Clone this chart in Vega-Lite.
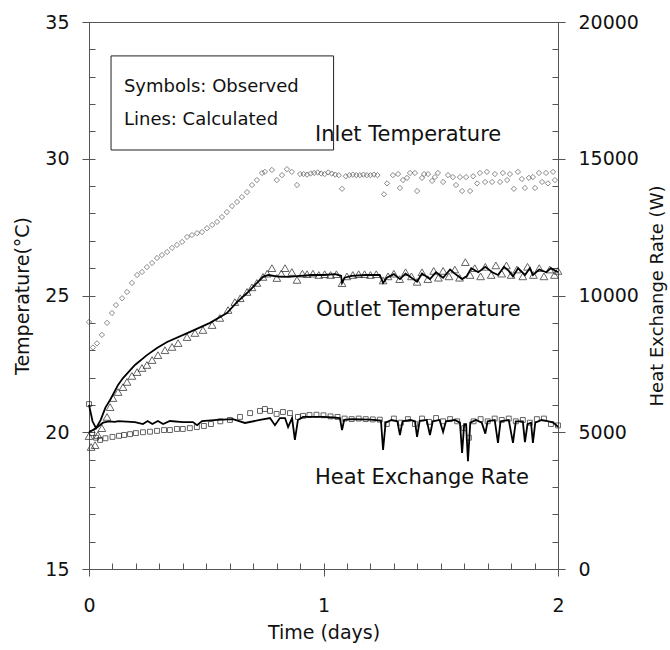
{
  "$schema": "https://vega.github.io/schema/vega-lite/v6.json",
  "width": 469,
  "height": 547,
  "autosize": {"type": "none"},
  "padding": {"left": 89, "top": 22, "right": 112, "bottom": 81},
  "background": "white",
  "config": {
    "view": {"stroke": "#555", "strokeWidth": 1},
    "font": "DejaVu Sans",
    "axis": {
      "grid": false,
      "domainColor": "#555",
      "tickColor": "#555",
      "domainWidth": 1,
      "tickWidth": 1,
      "labelColor": "#111",
      "titleColor": "#111",
      "labelFont": "DejaVu Sans",
      "titleFont": "DejaVu Sans",
      "labelFontSize": 19,
      "titleFontSize": 19,
      "titleFontWeight": "normal",
      "labelOverlap": false,
      "labelFlush": false
    }
  },
  "datasets": {
    "inlet": [
      {"t":0,"T":24.03},{"t":0.017,"T":23.1},{"t":0.034,"T":23.25},{"t":0.055,"T":23.56},{"t":0.077,"T":24.0},{"t":0.098,"T":24.36},{"t":0.115,"T":24.65},{"t":0.141,"T":24.9},{"t":0.162,"T":25.13},{"t":0.183,"T":25.46},{"t":0.205,"T":25.75},{"t":0.226,"T":25.86},{"t":0.247,"T":26.04},{"t":0.269,"T":26.19},{"t":0.29,"T":26.37},{"t":0.311,"T":26.48},{"t":0.333,"T":26.59},{"t":0.354,"T":26.74},{"t":0.375,"T":26.85},{"t":0.397,"T":26.96},{"t":0.418,"T":27.14},{"t":0.439,"T":27.21},{"t":0.461,"T":27.28},{"t":0.482,"T":27.32},{"t":0.503,"T":27.46},{"t":0.525,"T":27.58},{"t":0.546,"T":27.69},{"t":0.567,"T":27.87},{"t":0.588,"T":28.05},{"t":0.61,"T":28.27},{"t":0.631,"T":28.42},{"t":0.652,"T":28.6},{"t":0.674,"T":28.78},{"t":0.695,"T":29.04},{"t":0.716,"T":29.22},{"t":0.738,"T":29.48},{"t":0.75,"T":29.52},{"t":0.78,"T":29.59},{"t":0.801,"T":29.22},{"t":0.823,"T":29.4},{"t":0.844,"T":29.62},{"t":0.865,"T":29.52},{"t":0.887,"T":29.04},{"t":0.9,"T":29.44},{"t":0.915,"T":29.44},{"t":0.93,"T":29.42},{"t":0.945,"T":29.46},{"t":0.96,"T":29.48},{"t":0.975,"T":29.5},{"t":0.99,"T":29.46},{"t":1.005,"T":29.44},{"t":1.02,"T":29.5},{"t":1.035,"T":29.46},{"t":1.05,"T":29.42},{"t":1.065,"T":29.4},{"t":1.079,"T":28.9},{"t":1.095,"T":29.36},{"t":1.11,"T":29.4},{"t":1.125,"T":29.42},{"t":1.14,"T":29.4},{"t":1.155,"T":29.4},{"t":1.17,"T":29.42},{"t":1.185,"T":29.4},{"t":1.2,"T":29.4},{"t":1.215,"T":29.42},{"t":1.23,"T":29.4},{"t":1.258,"T":28.7},{"t":1.271,"T":29.1},{"t":1.296,"T":29.4},{"t":1.318,"T":29.44},{"t":1.326,"T":28.93},{"t":1.339,"T":29.22},{"t":1.356,"T":29.3},{"t":1.369,"T":29.48},{"t":1.39,"T":29.48},{"t":1.399,"T":28.82},{"t":1.42,"T":29.3},{"t":1.429,"T":29.44},{"t":1.446,"T":29.44},{"t":1.463,"T":29.19},{"t":1.475,"T":29.33},{"t":1.488,"T":29.48},{"t":1.51,"T":29.15},{"t":1.531,"T":29.4},{"t":1.552,"T":29.33},{"t":1.565,"T":29.04},{"t":1.582,"T":29.33},{"t":1.591,"T":28.82},{"t":1.608,"T":29.33},{"t":1.625,"T":28.82},{"t":1.638,"T":29.36},{"t":1.655,"T":29.1},{"t":1.667,"T":29.48},{"t":1.689,"T":29.15},{"t":1.697,"T":29.52},{"t":1.719,"T":29.15},{"t":1.731,"T":29.44},{"t":1.753,"T":29.15},{"t":1.765,"T":29.48},{"t":1.783,"T":29.22},{"t":1.795,"T":29.44},{"t":1.812,"T":28.9},{"t":1.829,"T":29.52},{"t":1.846,"T":29.26},{"t":1.859,"T":28.93},{"t":1.876,"T":29.3},{"t":1.893,"T":29.33},{"t":1.902,"T":28.93},{"t":1.919,"T":29.48},{"t":1.932,"T":29.15},{"t":1.949,"T":29.48},{"t":1.957,"T":29.1},{"t":1.979,"T":29.52},{"t":1.987,"T":29.22}
    ],
    "outlet": [
      {"t":0,"T":19.86},{"t":0.009,"T":19.46},{"t":0.026,"T":19.53},{"t":0.038,"T":19.9},{"t":0.055,"T":20.15},{"t":0.077,"T":20.56},{"t":0.09,"T":20.92},{"t":0.102,"T":21.25},{"t":0.124,"T":21.47},{"t":0.145,"T":21.65},{"t":0.162,"T":21.84},{"t":0.183,"T":22.06},{"t":0.205,"T":22.2},{"t":0.226,"T":22.35},{"t":0.247,"T":22.46},{"t":0.269,"T":22.64},{"t":0.294,"T":22.82},{"t":0.324,"T":23.0},{"t":0.354,"T":23.12},{"t":0.38,"T":23.26},{"t":0.418,"T":23.48},{"t":0.452,"T":23.63},{"t":0.486,"T":23.74},{"t":0.525,"T":23.92},{"t":0.558,"T":24.18},{"t":0.593,"T":24.47},{"t":0.622,"T":24.76},{"t":0.645,"T":24.9},{"t":0.674,"T":25.13},{"t":0.695,"T":25.3},{"t":0.716,"T":25.46},{"t":0.742,"T":25.68},{"t":0.76,"T":25.8},{"t":0.78,"T":26.0},{"t":0.801,"T":25.64},{"t":0.82,"T":25.8},{"t":0.836,"T":26.0},{"t":0.865,"T":25.86},{"t":0.887,"T":25.57},{"t":0.91,"T":25.8},{"t":0.93,"T":25.78},{"t":0.955,"T":25.8},{"t":0.98,"T":25.75},{"t":1.005,"T":25.78},{"t":1.03,"T":25.75},{"t":1.055,"T":25.78},{"t":1.079,"T":25.45},{"t":1.1,"T":25.7},{"t":1.125,"T":25.75},{"t":1.15,"T":25.78},{"t":1.175,"T":25.78},{"t":1.2,"T":25.75},{"t":1.225,"T":25.78},{"t":1.254,"T":25.55},{"t":1.275,"T":25.7},{"t":1.3,"T":25.8},{"t":1.325,"T":25.6},{"t":1.35,"T":25.85},{"t":1.375,"T":25.7},{"t":1.399,"T":25.5},{"t":1.42,"T":25.85},{"t":1.445,"T":25.6},{"t":1.47,"T":25.9},{"t":1.49,"T":25.65},{"t":1.51,"T":25.9},{"t":1.535,"T":25.7},{"t":1.56,"T":25.95},{"t":1.58,"T":25.65},{"t":1.605,"T":26.22},{"t":1.625,"T":25.75},{"t":1.645,"T":26.0},{"t":1.67,"T":25.7},{"t":1.69,"T":26.05},{"t":1.715,"T":25.75},{"t":1.735,"T":26.1},{"t":1.76,"T":25.8},{"t":1.78,"T":26.1},{"t":1.8,"T":25.75},{"t":1.825,"T":25.95},{"t":1.85,"T":25.7},{"t":1.87,"T":26.05},{"t":1.895,"T":25.75},{"t":1.92,"T":26.0},{"t":1.94,"T":25.7},{"t":1.965,"T":25.95},{"t":1.985,"T":25.75},{"t":2.0,"T":25.9}
    ],
    "outletCalc": [
      {"t":0,"T":21.0},{"t":0.015,"T":20.4},{"t":0.03,"T":20.15},{"t":0.05,"T":20.45},{"t":0.07,"T":20.9},{"t":0.09,"T":21.18},{"t":0.124,"T":21.73},{"t":0.145,"T":21.98},{"t":0.196,"T":22.46},{"t":0.247,"T":22.82},{"t":0.29,"T":23.08},{"t":0.333,"T":23.3},{"t":0.431,"T":23.67},{"t":0.516,"T":24.0},{"t":0.588,"T":24.36},{"t":0.631,"T":24.76},{"t":0.674,"T":25.09},{"t":0.742,"T":25.68},{"t":0.765,"T":25.75},{"t":0.8,"T":25.7},{"t":0.85,"T":25.68},{"t":0.9,"T":25.72},{"t":0.95,"T":25.75},{"t":1.0,"T":25.75},{"t":1.05,"T":25.78},{"t":1.075,"T":25.72},{"t":1.079,"T":25.46},{"t":1.09,"T":25.65},{"t":1.12,"T":25.72},{"t":1.18,"T":25.75},{"t":1.24,"T":25.75},{"t":1.254,"T":25.46},{"t":1.27,"T":25.65},{"t":1.3,"T":25.78},{"t":1.326,"T":25.6},{"t":1.35,"T":25.8},{"t":1.399,"T":25.5},{"t":1.42,"T":25.8},{"t":1.454,"T":25.6},{"t":1.48,"T":25.85},{"t":1.51,"T":25.65},{"t":1.54,"T":25.95},{"t":1.56,"T":25.8},{"t":1.591,"T":25.6},{"t":1.61,"T":25.7},{"t":1.63,"T":26.0},{"t":1.66,"T":25.85},{"t":1.69,"T":26.05},{"t":1.72,"T":25.85},{"t":1.744,"T":25.75},{"t":1.77,"T":26.05},{"t":1.79,"T":25.9},{"t":1.808,"T":25.7},{"t":1.83,"T":26.0},{"t":1.859,"T":25.75},{"t":1.88,"T":26.0},{"t":1.893,"T":25.75},{"t":1.92,"T":25.95},{"t":1.95,"T":25.85},{"t":1.97,"T":26.0},{"t":2.0,"T":25.85}
    ],
    "her": [
      {"t":0,"W":6030},{"t":0.013,"W":4970},{"t":0.03,"W":4800},{"t":0.047,"W":4720},{"t":0.07,"W":4780},{"t":0.1,"W":4830},{"t":0.128,"W":4870},{"t":0.15,"W":4900},{"t":0.175,"W":4930},{"t":0.2,"W":4970},{"t":0.23,"W":5000},{"t":0.26,"W":5020},{"t":0.29,"W":5050},{"t":0.32,"W":5080},{"t":0.345,"W":5080},{"t":0.375,"W":5120},{"t":0.4,"W":5120},{"t":0.43,"W":5150},{"t":0.46,"W":5190},{"t":0.49,"W":5230},{"t":0.52,"W":5300},{"t":0.56,"W":5400},{"t":0.601,"W":5450},{"t":0.644,"W":5560},{"t":0.687,"W":5700},{"t":0.729,"W":5780},{"t":0.75,"W":5850},{"t":0.772,"W":5780},{"t":0.8,"W":5670},{"t":0.827,"W":5740},{"t":0.857,"W":5700},{"t":0.891,"W":5560},{"t":0.913,"W":5600},{"t":0.94,"W":5630},{"t":0.97,"W":5640},{"t":1.0,"W":5620},{"t":1.03,"W":5580},{"t":1.06,"W":5560},{"t":1.09,"W":5500},{"t":1.12,"W":5480},{"t":1.15,"W":5500},{"t":1.18,"W":5480},{"t":1.21,"W":5470},{"t":1.24,"W":5460},{"t":1.27,"W":5300},{"t":1.3,"W":5500},{"t":1.33,"W":5350},{"t":1.36,"W":5480},{"t":1.39,"W":5300},{"t":1.42,"W":5500},{"t":1.45,"W":5380},{"t":1.48,"W":5520},{"t":1.51,"W":5400},{"t":1.54,"W":5480},{"t":1.57,"W":5400},{"t":1.6,"W":5150},{"t":1.62,"W":4800},{"t":1.64,"W":5400},{"t":1.67,"W":5480},{"t":1.7,"W":5400},{"t":1.73,"W":5500},{"t":1.76,"W":5450},{"t":1.79,"W":5500},{"t":1.82,"W":5400},{"t":1.85,"W":5450},{"t":1.88,"W":5350},{"t":1.91,"W":5480},{"t":1.94,"W":5500},{"t":1.97,"W":5300},{"t":2.0,"W":5250}
    ],
    "herCalc": [
      {"t":0,"W":5000},{"t":0.03,"W":5150},{"t":0.06,"W":5350},{"t":0.085,"W":5400},{"t":0.11,"W":5380},{"t":0.125,"W":5410},{"t":0.196,"W":5370},{"t":0.23,"W":5300},{"t":0.25,"W":5410},{"t":0.27,"W":5300},{"t":0.294,"W":5410},{"t":0.316,"W":5300},{"t":0.345,"W":5410},{"t":0.401,"W":5370},{"t":0.443,"W":5370},{"t":0.461,"W":5260},{"t":0.482,"W":5410},{"t":0.546,"W":5450},{"t":0.614,"W":5480},{"t":0.665,"W":5340},{"t":0.729,"W":5450},{"t":0.772,"W":5520},{"t":0.793,"W":5260},{"t":0.814,"W":5520},{"t":0.836,"W":5520},{"t":0.849,"W":5190},{"t":0.866,"W":5520},{"t":0.878,"W":4720},{"t":0.891,"W":5450},{"t":0.913,"W":5560},{"t":0.95,"W":5560},{"t":1.0,"W":5560},{"t":1.04,"W":5540},{"t":1.07,"W":5520},{"t":1.079,"W":5080},{"t":1.088,"W":5450},{"t":1.12,"W":5480},{"t":1.16,"W":5470},{"t":1.2,"W":5460},{"t":1.245,"W":5430},{"t":1.254,"W":4350},{"t":1.265,"W":5350},{"t":1.29,"W":5450},{"t":1.315,"W":5400},{"t":1.326,"W":4900},{"t":1.337,"W":5400},{"t":1.37,"W":5450},{"t":1.39,"W":5400},{"t":1.399,"W":4830},{"t":1.41,"W":5420},{"t":1.44,"W":5450},{"t":1.454,"W":4900},{"t":1.466,"W":5400},{"t":1.495,"W":5450},{"t":1.51,"W":5010},{"t":1.522,"W":5400},{"t":1.56,"W":5450},{"t":1.582,"W":5350},{"t":1.591,"W":4240},{"t":1.6,"W":5300},{"t":1.608,"W":5300},{"t":1.616,"W":3940},{"t":1.626,"W":5350},{"t":1.65,"W":5450},{"t":1.675,"W":5350},{"t":1.69,"W":4950},{"t":1.7,"W":5400},{"t":1.73,"W":5450},{"t":1.744,"W":4610},{"t":1.755,"W":5400},{"t":1.79,"W":5450},{"t":1.808,"W":4610},{"t":1.82,"W":5400},{"t":1.85,"W":5400},{"t":1.859,"W":4640},{"t":1.87,"W":5300},{"t":1.885,"W":5350},{"t":1.893,"W":4610},{"t":1.903,"W":5350},{"t":1.93,"W":5450},{"t":1.96,"W":5400},{"t":1.98,"W":5350},{"t":2.0,"W":5200}
    ],
    "box": [{"x0":0.094,"x1":1.043,"y0":33.76,"y1":30.32}],
    "boxText": [
      {"t":0.149,"T":32.62,"label":"Symbols: Observed"},
      {"t":0.149,"T":31.42,"label":"Lines: Calculated"}
    ],
    "annot": [
      {"t":0.964,"T":30.87,"label":"Inlet Temperature"},
      {"t":0.968,"T":24.47,"label":"Outlet Temperature"},
      {"t":0.964,"T":18.33,"label":"Heat Exchange Rate"}
    ]
  },
  "resolve": {"scale": {"y": "independent"}, "axis": {"x": "independent", "y": "independent"}},
  "layer": [
    {
      "data": {"name": "box"},
      "mark": {"type": "rect", "fill": "transparent", "stroke": "#222", "strokeWidth": 1},
      "encoding": {
        "x": {"field": "x0", "type": "quantitative", "scale": {"domain": [0, 2]}, "axis": null},
        "x2": {"field": "x1"},
        "y": {"field": "y0", "type": "quantitative", "scale": {"domain": [15, 35]}, "axis": null},
        "y2": {"field": "y1"}
      }
    },
    {
      "data": {"name": "boxText"},
      "mark": {"type": "text", "align": "left", "baseline": "middle", "fontSize": 18, "font": "DejaVu Sans", "color": "#111"},
      "encoding": {
        "x": {"field": "t", "type": "quantitative", "scale": {"domain": [0, 2]}, "axis": null},
        "y": {"field": "T", "type": "quantitative", "scale": {"domain": [15, 35]}, "axis": null},
        "text": {"field": "label"}
      }
    },
    {
      "data": {"name": "annot"},
      "mark": {"type": "text", "align": "left", "baseline": "middle", "fontSize": 21, "font": "DejaVu Sans", "color": "#111"},
      "encoding": {
        "x": {"field": "t", "type": "quantitative", "scale": {"domain": [0, 2]}, "axis": null},
        "y": {"field": "T", "type": "quantitative", "scale": {"domain": [15, 35]}, "axis": null},
        "text": {"field": "label"}
      }
    },
    {
      "data": {"name": "inlet"},
      "mark": {"type": "point", "shape": "diamond", "size": 28, "filled": false, "stroke": "#555", "strokeWidth": 1},
      "encoding": {
        "x": {"field": "t", "type": "quantitative", "scale": {"domain": [0, 2]},
              "axis": {"orient": "bottom", "values": [0, 0.1, 0.2, 0.3, 0.4, 0.5, 0.6, 0.7, 0.8, 0.9, 1, 1.1, 1.2, 1.3, 1.4, 1.5, 1.6, 1.7, 1.8, 1.9, 2], "tickSize": -6, "labels": false, "domain": false, "title": null}},
        "y": {"field": "T", "type": "quantitative", "scale": {"domain": [15, 35]},
              "axis": {"orient": "left", "values": [15, 20, 25, 30, 35], "tickSize": 7, "labelPadding": 13, "title": "Temperature(°C)", "titlePadding": 12}}
      }
    },
    {
      "data": {"name": "outlet"},
      "mark": {"type": "point", "shape": "triangle-up", "size": 60, "filled": false, "stroke": "#222", "strokeWidth": 1},
      "encoding": {
        "x": {"field": "t", "type": "quantitative", "scale": {"domain": [0, 2]},
              "axis": {"orient": "bottom", "values": [0, 1, 2], "tickSize": 7, "labelPadding": 20, "labelOverlap": false, "labelFlush": false, "labelExpr": "format(datum.value, '.0f')", "title": "Time (days)", "titlePadding": 8}},
        "y": {"field": "T", "type": "quantitative", "scale": {"domain": [15, 35]},
              "axis": {"orient": "left", "values": [15, 16, 17, 18, 19, 20, 21, 22, 23, 24, 25, 26, 27, 28, 29, 30, 31, 32, 33, 34, 35], "tickSize": -6, "labels": false, "domain": false, "title": null}}
      }
    },
    {
      "data": {"name": "outletCalc"},
      "mark": {"type": "line", "color": "#000", "strokeWidth": 1.8},
      "encoding": {
        "x": {"field": "t", "type": "quantitative", "scale": {"domain": [0, 2]}, "axis": null},
        "y": {"field": "T", "type": "quantitative", "scale": {"domain": [15, 35]}, "axis": null}
      }
    },
    {
      "data": {"name": "her"},
      "mark": {"type": "point", "shape": "square", "size": 24, "filled": false, "stroke": "#222", "strokeWidth": 1},
      "encoding": {
        "x": {"field": "t", "type": "quantitative", "scale": {"domain": [0, 2]}, "axis": null},
        "y": {"field": "W", "type": "quantitative", "scale": {"domain": [0, 20000]},
              "axis": {"orient": "right", "values": [0, 5000, 10000, 15000, 20000], "tickSize": 7, "labelPadding": 13, "format": "d", "title": "Heat Exchange Rate (W)", "titleFontSize": 18, "titleAngle": 270, "titlePadding": 28}}
      }
    },
    {
      "data": {"name": "herCalc"},
      "mark": {"type": "line", "color": "#000", "strokeWidth": 1.8},
      "encoding": {
        "x": {"field": "t", "type": "quantitative", "scale": {"domain": [0, 2]}, "axis": null},
        "y": {"field": "W", "type": "quantitative", "scale": {"domain": [0, 20000]},
              "axis": {"orient": "right", "values": [0, 1000, 2000, 3000, 4000, 5000, 6000, 7000, 8000, 9000, 10000, 11000, 12000, 13000, 14000, 15000, 16000, 17000, 18000, 19000, 20000], "tickSize": -6, "labels": false, "domain": false, "title": null}}
      }
    }
  ]
}
